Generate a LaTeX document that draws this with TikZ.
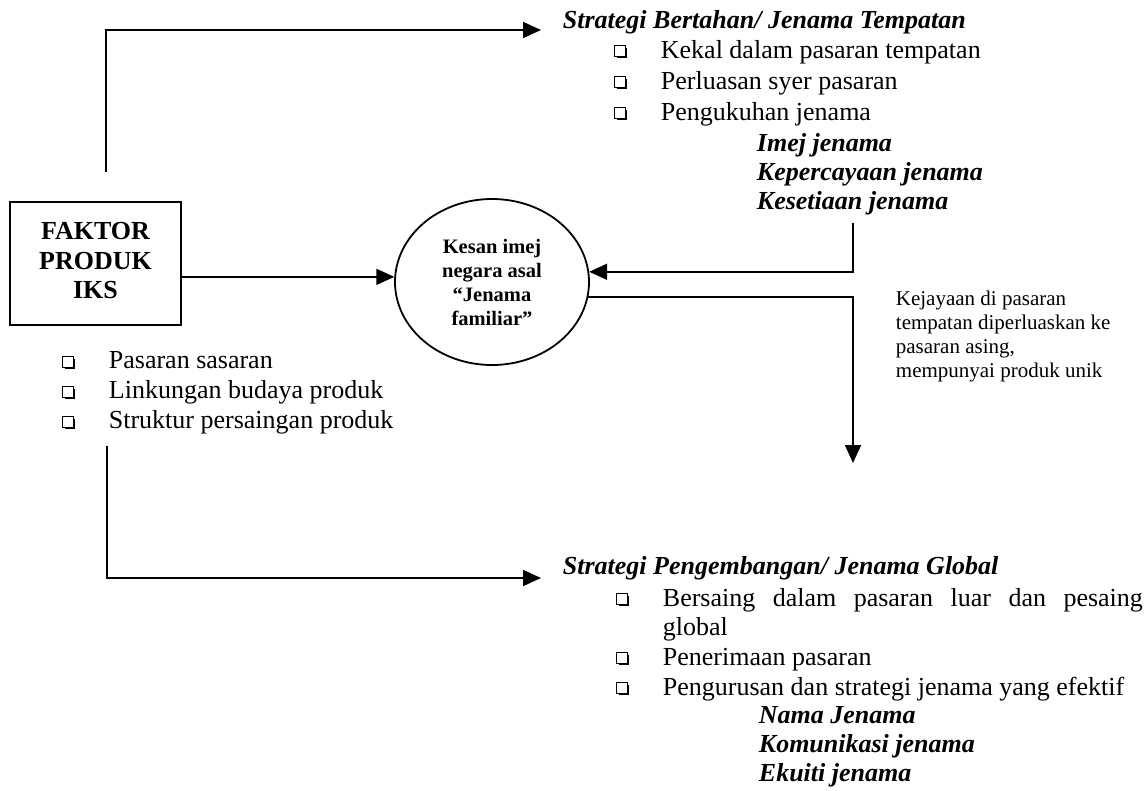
\documentclass[tikz,border=0pt]{standalone}
\usepackage{fontspec}
\setmainfont{Liberation Serif}
\usetikzlibrary{arrows.meta,shapes.geometric,shadows}
\begin{document}
\begin{tikzpicture}[x=1pt,y=-1pt,
  line width=1.8pt,
  arr/.style={-{Triangle[length=18pt,width=16pt]}},
  bul/.style={draw,line width=1.2pt,fill=white,minimum size=10.5pt,inner sep=0pt,
    drop shadow={shadow xshift=1.8pt,shadow yshift=-1.8pt,opacity=1,fill=black}},
  txt/.style={anchor=base west,inner sep=0pt,font=\fontsize{26}{30}\selectfont},
  bitxt/.style={anchor=base west,inner sep=0pt,font=\fontsize{26}{30}\selectfont\bfseries\itshape},
  smtxt/.style={anchor=base west,inner sep=0pt,font=\fontsize{21}{24}\selectfont}
]
\useasboundingbox (0,0) rectangle (1145,790);

% main box
\node[draw,minimum width=171pt,minimum height=123pt,inner sep=0pt,
  font=\fontsize{26}{29.5}\selectfont\bfseries] (box) at (95.5,263.5)
  {\raisebox{4pt}{\begin{tabular}{@{}c@{}}FAKTOR\\PRODUK\\IKS\end{tabular}}};

% ellipse
\node[draw,ellipse,minimum width=194pt,minimum height=166pt,inner sep=0pt,align=center,
  font=\fontsize{20.5}{24}\selectfont\bfseries] (circ) at (492,282)
  {Kesan imej\\negara asal\\“Jenama\\familiar”};

% top block
\node[bitxt] (t0) at (562,28) {Strategi Bertahan/ Jenama Tempatan};
\node[bul] (tb1) at (620,51) {};
\node[txt] (t1) at (660,58) {Kekal dalam pasaran tempatan};
\node[bul] (tb2) at (620,82) {};
\node[txt] (t2) at (660,89) {Perluasan syer pasaran};
\node[bul] (tb3) at (620,113) {};
\node[txt] (t3) at (660,120) {Pengukuhan jenama};
\node[bitxt] (t4) at (756,151) {Imej jenama};
\node[bitxt] (t5) at (756,180) {Kepercayaan jenama};
\node[bitxt] (t6) at (756,209) {Kesetiaan jenama};

% left list
\node[bul] (lb1) at (68,362) {};
\node[txt] (l1) at (108,368) {Pasaran sasaran};
\node[bul] (lb2) at (68,392) {};
\node[txt] (l2) at (108,398) {Linkungan budaya produk};
\node[bul] (lb3) at (68,422) {};
\node[txt] (l3) at (108,428) {Struktur persaingan produk};

% right note
\node[smtxt] (k1) at (895,305) {Kejayaan di pasaran};
\node[smtxt] (k2) at (895,329) {tempatan diperluaskan ke};
\node[smtxt] (k3) at (895,353) {pasaran asing,};
\node[smtxt] (k4) at (895,377) {mempunyai produk unik};

% bottom block
\node[bitxt] (g0) at (562,574) {Strategi Pengembangan/ Jenama Global};
\node[bul] (gb1) at (622,599) {};
\node[txt] (g1) at (662,606) {\makebox[480pt][s]{Bersaing dalam pasaran luar dan pesaing}};
\node[txt] (g2) at (662,635) {global};
\node[bul] (gb3) at (622,658) {};
\node[txt] (g3) at (662,665) {Penerimaan pasaran};
\node[bul] (gb4) at (622,688) {};
\node[txt] (g4) at (662,695) {Pengurusan dan strategi jenama yang efektif};
\node[bitxt] (g5) at (758,723) {Nama Jenama};
\node[bitxt] (g6) at (758,752) {Komunikasi jenama};
\node[bitxt] (g7) at (758,781) {Ekuiti jenama};

% connectors
\coordinate (tstart) at (106,172);
\coordinate (ttip) at (541,30);
\draw[arr] (tstart) |- (ttip);

\coordinate (bstart) at (107,446);
\coordinate (btip) at (541,578);
\draw[arr] (bstart) |- (btip);

\draw[arr] (box.east |- circ.177) -- (circ.177);

\coordinate (kstart) at (853,223);
\draw[arr] (kstart) |- (circ.6);

\coordinate (kend) at (853,463);
\draw[arr] (circ.-9.5) -| (kend);
\end{tikzpicture}
\end{document}
